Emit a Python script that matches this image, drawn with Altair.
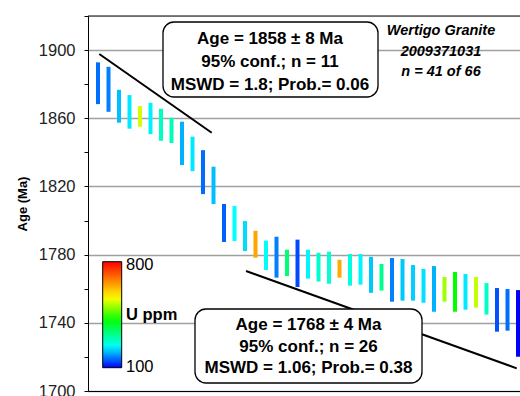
import altair as alt
import pandas as pd

# ---- data ----
grain = list(range(1, 42))
age_hi = [1892.8, 1890.2, 1876.7, 1873.6, 1867.2, 1869.1, 1865.6, 1860.3, 1858.0, 1849.2,
          1841.3, 1831.6, 1809.7, 1808.5, 1799.7, 1794.0, 1788.2, 1790.5, 1782.9, 1788.8,
          1782.9, 1781.1, 1781.7, 1777.0, 1780.4, 1780.4, 1778.7, 1774.5, 1778.0, 1777.4,
          1773.9, 1771.6, 1773.3, 1766.9, 1769.8, 1768.6, 1766.9, 1763.3, 1760.4, 1759.8,
          1759.2]
age_lo = [1868.3, 1863.8, 1857.4, 1853.9, 1855.0, 1850.7, 1846.8, 1845.5, 1832.6, 1829.0,
          1815.5, 1809.7, 1787.4, 1788.0, 1782.1, 1778.2, 1771.0, 1766.5, 1767.4, 1761.0,
          1765.9, 1764.2, 1762.9, 1766.5, 1761.8, 1762.4, 1757.6, 1758.9, 1752.4, 1753.0,
          1753.0, 1751.8, 1746.5, 1752.4, 1746.5, 1747.7, 1748.9, 1744.8, 1734.8, 1735.4,
          1720.1]
u_ppm = [160, 170, 205, 228, 535, 232, 282, 290, 197, 228,
         160, 205, 153, 240, 220, 645, 245, 170, 335, 140,
         235, 272, 268, 640, 262, 235, 210, 316, 170, 210,
         214, 223, 197, 506, 415, 228, 528, 278, 145, 160,
         100]

fit_old_x = [1.12, 11.83]
fit_old_age = [1897.7, 1851.5]
fit_young_x = [15.1, 40.88]
fit_young_age = [1770.4, 1713.3]

box_old_lines = ["Age = 1858 ± 8 Ma", "95% conf.; n = 11", "MSWD = 1.8; Prob.= 0.06"]
box_young_lines = ["Age = 1768 ± 4 Ma", "95% conf.; n = 26", "MSWD = 1.06; Prob.= 0.38"]
title_lines = ["Wertigo Granite", "2009371031", "n = 41 of 66"]
y_ticks = list(range(1700, 1921, 20))
u_stops = [100, 240, 415, 560, 800]
u_colors = ["#0000ff", "#00ffff", "#00ff00", "#ffff00", "#ff0000"]

FONT = "Liberation Sans"
W, H = 432, 375

df = pd.DataFrame({"grain": grain, "hi": age_hi, "lo": age_lo, "u": u_ppm})
fits = pd.DataFrame({
    "x": fit_old_x + fit_young_x,
    "age": fit_old_age + fit_young_age,
    "fit": ["old", "old", "young", "young"],
})
one = pd.DataFrame({"k": [0]})

xscale = alt.Scale(domain=[0.0476, 41.19], nice=False, zero=False)
yscale = alt.Scale(domain=[1700, 1920], nice=False, zero=False)
xaxis = alt.Axis(labels=False, ticks=False, grid=False, title=None,
                 domainColor="black", domainWidth=1)
yaxis = alt.Axis(
    values=y_ticks, format="d",
    labelExpr="(datum.value - 1700) % 40 === 0 ? datum.label : ''",
    gridColor={"condition": {"test": "(datum.value - 1700) % 40 === 0", "value": "#a0a0a0"},
               "value": "transparent"},
    gridWidth=1.5,
    domainColor="black", tickColor="black", tickSize=4,
    labelFontSize=16.5, labelColor="#222222", labelPadding=9,
    title="Age (Ma)", titleFontSize=13, titleFontWeight="bold", titlePadding=9,
    titleColor="black",
)

bars = alt.Chart(df).mark_rule(strokeWidth=4, clip=True).encode(
    x=alt.X("grain:Q", scale=xscale, axis=xaxis),
    y=alt.Y("hi:Q", scale=yscale, axis=yaxis),
    y2="lo:Q",
    color=alt.Color(
        "u:Q",
        scale=alt.Scale(domain=u_stops, range=u_colors, interpolate="rgb"),
        legend=alt.Legend(
            orient="none", legendX=14.7, legendY=245.7, direction="vertical",
            gradientLength=106, gradientThickness=19,
            gradientStrokeColor="black", gradientStrokeWidth=1,
            labelExpr="''", labelFontSize=1, title=None, padding=0,
        ),
    ),
)

fit_lines = alt.Chart(fits).mark_line(color="black", strokeWidth=2, clip=True).encode(
    x=alt.X("x:Q", scale=xscale, axis=xaxis),
    y=alt.Y("age:Q", scale=yscale, axis=yaxis),
    detail="fit:N",
)

top_border = alt.Chart(one).mark_rule(color="black", strokeWidth=1).encode(
    x=alt.value(0), x2=alt.value(W), y=alt.value(0)
)

box_style = dict(cornerRadius=11, fill="white", stroke="black", strokeWidth=1.3)
box_old = alt.Chart(one).mark_rect(**box_style).encode(
    x=alt.value(75), x2=alt.value(290), y=alt.value(6), y2=alt.value(81)
)
box_young = alt.Chart(one).mark_rect(**box_style).encode(
    x=alt.value(107), x2=alt.value(334), y=alt.value(293), y2=alt.value(367)
)

txt_style = dict(font=FONT, fontSize=17, fontWeight="bold", align="center",
                 baseline="alphabetic", lineHeight=23, color="black")
text_old = alt.Chart(one).mark_text(**txt_style).encode(
    x=alt.value(182), y=alt.value(28.3), text=alt.value(box_old_lines)
)
text_young = alt.Chart(one).mark_text(**{**txt_style, "lineHeight": 21.7}).encode(
    x=alt.value(220.5), y=alt.value(314), text=alt.value(box_young_lines)
)
text_title = alt.Chart(one).mark_text(
    font=FONT, fontSize=14.5, fontWeight="bold", fontStyle="italic", align="center",
    baseline="alphabetic", lineHeight=20.5, color="black"
).encode(x=alt.value(353), y=alt.value(19), text=alt.value(title_lines))

lab_style = dict(font=FONT, fontSize=16.5, align="left", color="black")
lab_max = alt.Chart(one).mark_text(baseline="middle", **lab_style).encode(
    x=alt.value(38), y=alt.value(249.3), text=alt.value(str(u_stops[-1]))
)
lab_min = alt.Chart(one).mark_text(baseline="middle", **lab_style).encode(
    x=alt.value(38), y=alt.value(351), text=alt.value(str(u_stops[0]))
)
lab_title = alt.Chart(one).mark_text(baseline="alphabetic", fontWeight="bold", **lab_style).encode(
    x=alt.value(38), y=alt.value(304), text=alt.value("U ppm")
)

chart = alt.layer(
    bars, fit_lines, top_border, box_old, box_young,
    text_old, text_young, text_title, lab_max, lab_min, lab_title,
).properties(
    width=W, height=H,
    autosize=alt.AutoSizeParams(type="none"),
    padding={"left": 88, "top": 16, "right": 0, "bottom": 5},
    background="white",
).configure_view(stroke=None).configure(font=FONT)

chart.save("out.html", embed_options={"renderer": "svg", "actions": False})
